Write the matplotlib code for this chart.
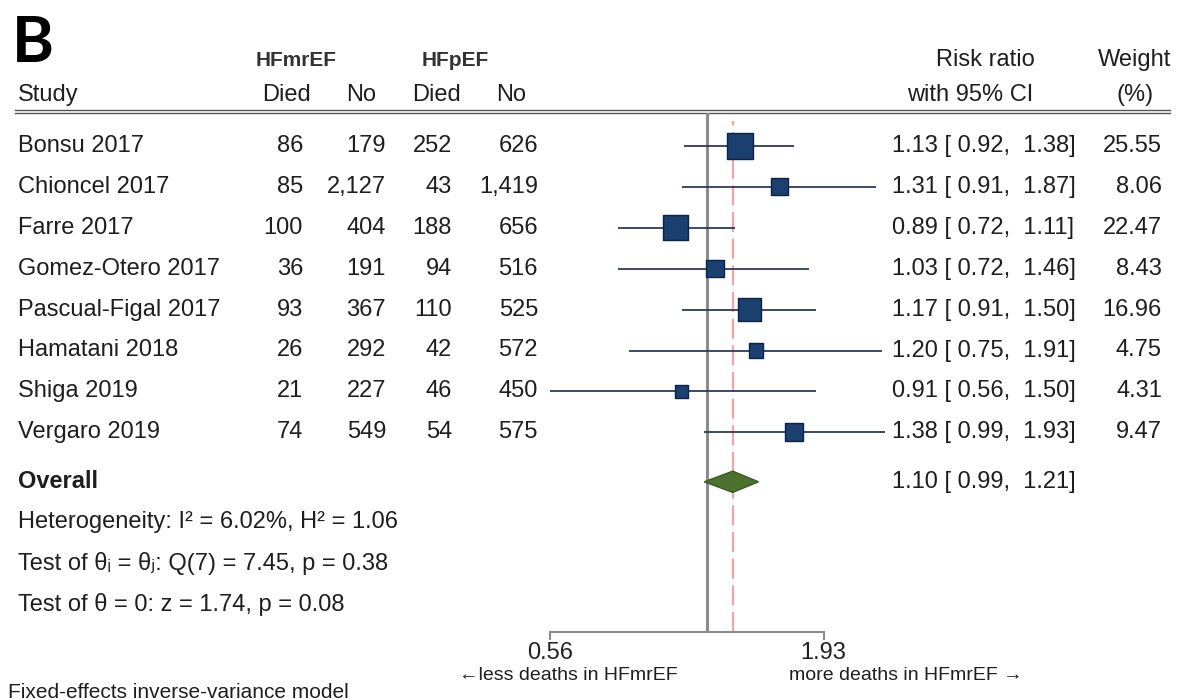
import matplotlib
matplotlib.use('Agg')
import matplotlib.pyplot as plt
import matplotlib.transforms as mtransforms
import numpy as np

plt.rcParams['font.family'] = ['Liberation Sans', 'DejaVu Sans']

# Data
studies = ['Bonsu 2017', 'Chioncel 2017', 'Farre 2017', 'Gomez-Otero 2017',
           'Pascual-Figal 2017', 'Hamatani 2018', 'Shiga 2019', 'Vergaro 2019']
mr_died = [86, 85, 100, 36, 93, 26, 21, 74]
mr_no = [179, 2127, 404, 191, 367, 292, 227, 549]
p_died = [252, 43, 188, 94, 110, 42, 46, 54]
p_no = [626, 1419, 656, 516, 525, 572, 450, 575]
rr = [1.13, 1.31, 0.89, 1.03, 1.17, 1.20, 0.91, 1.38]
rr_lo = [0.92, 0.91, 0.72, 0.72, 0.91, 0.75, 0.56, 0.99]
rr_hi = [1.38, 1.87, 1.11, 1.46, 1.50, 1.91, 1.50, 1.93]
weight = [25.55, 8.06, 22.47, 8.43, 16.96, 4.75, 4.31, 9.47]
overall = [1.10, 0.99, 1.21]
stats = ['Heterogeneity: I\u00b2 = 6.02%, H\u00b2 = 1.06',
         'Test of \u03b8\u1d62 = \u03b8\u2c7c: Q(7) = 7.45, p = 0.38',
         'Test of \u03b8 = 0: z = 1.74, p = 0.08']
tick_pos = [0.56, 1.54]
tick_lab = ['0.56', '1.93']

W, H = 1182, 700
fig = plt.figure(figsize=(W / 100, H / 100), dpi=100)

# background axes in pixel coords for the table text
ax0 = fig.add_axes([0, 0, 1, 1])
ax0.set_xlim(0, W)
ax0.set_ylim(H, 0)
ax0.axis('off')

# forest axes: log scale, 1.0 at x=707px, 270 px per log unit
k, x1 = 270., 707.
xmin, xmax = 0.54, 1.94
left = x1 + k * np.log(xmin)
right = x1 + k * np.log(xmax)
row0, rowh = 146., 40.9
top_px, bot_px = 113., 632.
axf = fig.add_axes([left / W, (H - bot_px) / H, (right - left) / W, (bot_px - top_px) / H])
axf.patch.set_alpha(0)
axf.set_xscale('log')
axf.set_xlim(xmin, xmax)
axf.set_ylim((bot_px - row0) / rowh, (top_px - row0) / rowh)
for s in ['top', 'left', 'right']:
    axf.spines[s].set_visible(False)
axf.spines['bottom'].set_bounds(tick_pos[0], tick_pos[1])
axf.spines['bottom'].set_color('#8c8c8c')
axf.spines['bottom'].set_linewidth(1.5)
axf.set_yticks([])
axf.xaxis.set_minor_locator(matplotlib.ticker.NullLocator())
axf.set_xticks(tick_pos)
axf.set_xticklabels(tick_lab)
axf.tick_params(axis='x', length=6, width=1.5, color='#8c8c8c', pad=1,
                labelsize=17, labelcolor='#222222')

ypos = np.arange(len(studies))
y_overall = 8.21

axf.axvline(1.0, color='#8c8c8c', lw=2.2, zorder=1)
axf.axvline(overall[0], ymin=0, ymax=0.985, color='#f5a3a3', lw=1.6,
            linestyle=(0, (9, 3)), zorder=1)

axf.hlines(ypos, rr_lo, rr_hi, color='#2e3a58', lw=1.3, zorder=2)
side = 4.2 * np.sqrt(weight) + 5
axf.scatter(rr, ypos, marker='s', s=(side * 0.72) ** 2, color='#1b3f6e',
            edgecolor='#0b2347', linewidth=1, zorder=3)

dh = 0.26
axf.fill([overall[1], overall[0], overall[2], overall[0]],
         [y_overall, y_overall - dh, y_overall, y_overall + dh],
         color='#4d7230', edgecolor='#3a5a22', lw=1, zorder=3)

# table text
tr = mtransforms.blended_transform_factory(ax0.transData, axf.transData)
fs = 17
tc = '#1e1e1e'
for i, name in enumerate(studies):
    ax0.text(18, i, name, transform=tr, fontsize=fs, color=tc, va='center')
    ax0.text(303, i, f'{mr_died[i]:,}', transform=tr, fontsize=fs, color=tc, va='center', ha='right')
    ax0.text(386, i, f'{mr_no[i]:,}', transform=tr, fontsize=fs, color=tc, va='center', ha='right')
    ax0.text(452, i, f'{p_died[i]:,}', transform=tr, fontsize=fs, color=tc, va='center', ha='right')
    ax0.text(538, i, f'{p_no[i]:,}', transform=tr, fontsize=fs, color=tc, va='center', ha='right')
    ax0.text(892, i, f'{rr[i]:.2f} [ {rr_lo[i]:.2f},  {rr_hi[i]:.2f}]', transform=tr,
             fontsize=fs, color=tc, va='center')
    ax0.text(1162, i, f'{weight[i]:.2f}', transform=tr, fontsize=fs, color=tc, va='center', ha='right')

ax0.text(18, y_overall, 'Overall', transform=tr, fontsize=fs, color=tc, va='center', fontweight='bold')
ax0.text(892, y_overall, f'{overall[0]:.2f} [ {overall[1]:.2f},  {overall[2]:.2f}]',
         transform=tr, fontsize=fs, color=tc, va='center')
for j, s in enumerate(stats):
    ax0.text(18, 9.2 + j, s, transform=tr, fontsize=fs, color=tc, va='center')

# headers
ax0.text(12, 62, 'B', fontsize=46, fontweight='bold', family='Lato', va='baseline', ha='left')
ax0.text(296, 60, 'HFmrEF', fontsize=15, fontweight='bold', color='#333333', va='center', ha='center')
ax0.text(455, 60, 'HFpEF', fontsize=15, fontweight='bold', color='#333333', va='center', ha='center')
ax0.text(18, 95, 'Study', fontsize=fs, color=tc, va='center')
ax0.text(311, 95, 'Died', fontsize=fs, color=tc, va='center', ha='right')
ax0.text(376, 95, 'No', fontsize=fs, color=tc, va='center', ha='right')
ax0.text(461, 95, 'Died', fontsize=fs, color=tc, va='center', ha='right')
ax0.text(526, 95, 'No', fontsize=fs, color=tc, va='center', ha='right')
ax0.text(985, 60, 'Risk ratio', fontsize=fs, color=tc, va='center', ha='center')
ax0.text(970, 95, 'with 95% CI', fontsize=fs, color=tc, va='center', ha='center')
ax0.text(1135, 60, 'Weight', fontsize=fs, color=tc, va='center', ha='center')
ax0.text(1135, 95, '(%)', fontsize=fs, color=tc, va='center', ha='center')
ax0.plot([15, 1170], [110, 110], color='#555555', lw=1.0)
ax0.plot([15, 1170], [113, 113], color='#555555', lw=1.0)

ax0.text(568, 676, '\u2190less deaths in HFmrEF', fontsize=14, color=tc, va='center', ha='center')
ax0.text(906, 676, 'more deaths in HFmrEF \u2192', fontsize=14, color=tc, va='center', ha='center')
ax0.text(8, 692, 'Fixed-effects inverse-variance model', fontsize=15, color=tc, va='center')

fig.savefig('out.png', dpi=100)
